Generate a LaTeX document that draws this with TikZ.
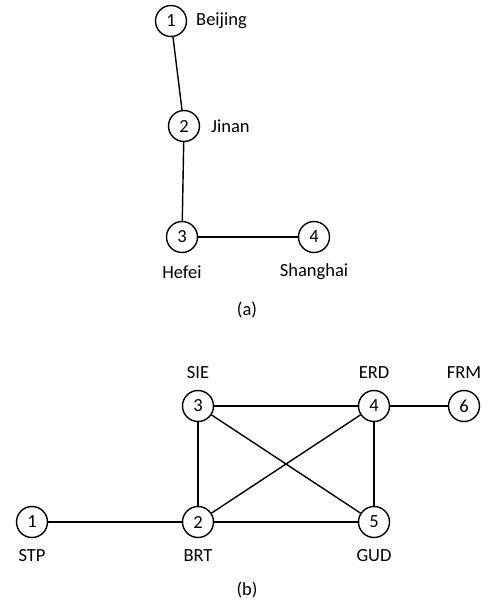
\documentclass[tikz,border=0pt]{standalone}
\usepackage{fontspec}
\setmainfont{Carlito}
\begin{document}
\begin{tikzpicture}[x=1pt,y=-1pt,
  vtx/.style={circle,draw,line width=1.4pt,minimum size=31pt,inner sep=0pt,font=\fontsize{18.5}{21}\selectfont},
  lbl/.style={inner sep=0pt,font=\fontsize{18.5}{21}\selectfont},
  edge/.style={line width=1.4pt}]
\useasboundingbox (0,0) rectangle (490,608);
% (a)
\node[vtx] (a1) at (171,21) {1};
\node[vtx] (a2) at (184,126) {2};
\node[vtx] (a3) at (182,237) {3};
\node[vtx] (a4) at (314,237) {4};
\node[lbl,anchor=west] (la1) at (196,21) {Beijing};
\node[lbl,anchor=west] (la2) at (211,126) {Jinan};
\node[lbl] (la3) at (182,272) {Hefei};
\node[lbl] (la4) at (314,272) {Shanghai};
\node[lbl] (capa) at (247,310) {(a)};
\draw[edge] (a1) -- (a2);
\draw[edge] (a2) -- (a3);
\draw[edge] (a3) -- (a4);
% (b)
\node[vtx] (b1) at (32,522) {1};
\node[vtx] (b2) at (198,522) {2};
\node[vtx] (b3) at (198,406) {3};
\node[vtx] (b4) at (374,406) {4};
\node[vtx] (b5) at (374,522) {5};
\node[vtx] (b6) at (464,406) {6};
\node[lbl] (lb1) at (32,556) {STP};
\node[lbl] (lb2) at (198,556) {BRT};
\node[lbl] (lb3) at (198,373) {SIE};
\node[lbl] (lb4) at (374,373) {ERD};
\node[lbl] (lb5) at (374,556) {GUD};
\node[lbl] (lb6) at (464,373) {FRM};
\node[lbl] (capb) at (247,590) {(b)};
\draw[edge] (b1) -- (b2);
\draw[edge] (b2) -- (b5);
\draw[edge] (b2) -- (b3);
\draw[edge] (b2) -- (b4);
\draw[edge] (b3) -- (b4);
\draw[edge] (b3) -- (b5);
\draw[edge] (b4) -- (b5);
\draw[edge] (b4) -- (b6);
\end{tikzpicture}
\end{document}
